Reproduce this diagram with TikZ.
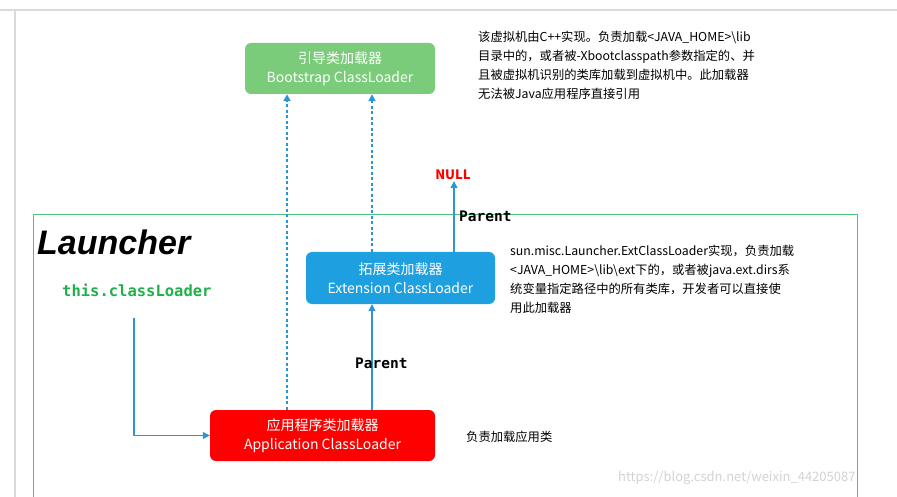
\documentclass[tikz,border=0pt]{standalone}
\usepackage{fontspec}
\setmainfont{Noto Sans CJK SC}
\newfontfamily\cjk{Noto Sans CJK SC}
\newfontfamily\monob{DejaVu Sans Mono}
\newfontfamily\titlefont{Liberation Sans}
\usetikzlibrary{arrows.meta}
\definecolor{bootgreen}{HTML}{7ACC7A}
\definecolor{extblue}{HTML}{1E9FE0}
\definecolor{appred}{HTML}{FF0000}
\definecolor{arrowblue}{HTML}{2B96D6}
\definecolor{framegreen}{HTML}{4CC27A}
\definecolor{codegreen}{HTML}{1FB04A}
\tikzset{
  loader/.style={rounded corners=6pt, text=white, align=center, inner sep=0pt,
    font=\fontsize{14}{19}\selectfont},
  conn/.style={arrowblue, line width=1.1pt, -{Triangle[length=7pt,width=7pt]}},
  dashconn/.style={conn, line width=2.6pt, dash pattern=on 3pt off 2.5pt},
  note/.style={anchor=north west, align=left, inner sep=0pt,
    font=\fontsize{12.3}{19}\selectfont},
  parent/.style={font=\monob\bfseries\fontsize{14.5}{16}\selectfont, inner sep=0pt},
}
\begin{document}
\begin{tikzpicture}[x=1pt,y=-1pt]
\useasboundingbox (0,0) rectangle (897,497);
% screenshot frame
\draw[gray!30, line width=1.5pt] (0,10) -- (897,10);
\draw[gray!30, line width=1.5pt] (15,10) -- (15,497);
% launcher frame
\draw[framegreen, line width=1pt] (33,497) -- (33,215) -- (857,215) -- (857,497);
\node[anchor=west, inner sep=0pt, font=\titlefont\bfseries\itshape\fontsize{34}{36}\selectfont] (launcher) at (37,242) {Launcher};
\node[anchor=west, inner sep=0pt, text=codegreen, font=\monob\bfseries\fontsize{15.5}{17}\selectfont] (this) at (62,290) {this.classLoader};

% loaders
\node[loader, fill=bootgreen, minimum width=190pt, minimum height=51pt] (boot) at (340,68.5) {引导类加载器\\Bootstrap ClassLoader};
\node[loader, fill=extblue, minimum width=189pt, minimum height=52pt] (ext) at (400.5,278) {拓展类加载器\\Extension ClassLoader};
\node[loader, fill=appred, minimum width=225pt, minimum height=51pt] (app) at (322.5,435.5) {应用程序类加载器\\Application ClassLoader};
\node[inner sep=1pt, text=red, font=\bfseries\fontsize{13}{14}\selectfont] (null) at (453,175) {NULL};

% notes
\node[note] (bootnote) at (478,31) {该虚拟机由C++实现。负责加载<JAVA\_HOME>\textbackslash lib\\目录中的，或者被-Xbootclasspath参数指定的、并\\且被虚拟机识别的类库加载到虚拟机中。此加载器\\无法被Java应用程序直接引用};
\node[note] (extnote) at (510,245) {sun.misc.Launcher.ExtClassLoader实现，负责加载\\<JAVA\_HOME>\textbackslash lib\textbackslash ext下的，或者被java.ext.dirs系\\统变量指定路径中的所有类库，开发者可以直接使\\用此加载器};
\node[anchor=west, inner sep=0pt, font=\fontsize{12.3}{14}\selectfont] (appnote) at (466,437) {负责加载应用类};
\node[anchor=west, inner sep=0pt, text=gray!35, font=\fontsize{13}{14}\selectfont] (mark) at (618,478) {https://blog.csdn.net/weixin\_44205087};

% connectors
\coordinate (thisend) at (134,318);
\draw[conn] (thisend) |- (app.west);
\draw[dashconn] (app.north -| 287,0) -- (boot.south -| 287,0);
\draw[dashconn] (ext.north -| 372,0) -- (boot.south -| 372,0);
\draw[conn] (app.north -| 372,0) -- (ext.south -| 372,0);
\draw[conn] (ext.north -| 454,0) -- (null.south -| 454,0);
\node[parent, anchor=west] (p1) at (355,363) {Parent};
\node[parent, anchor=west] (p2) at (459,216) {Parent};
\end{tikzpicture}
\end{document}
